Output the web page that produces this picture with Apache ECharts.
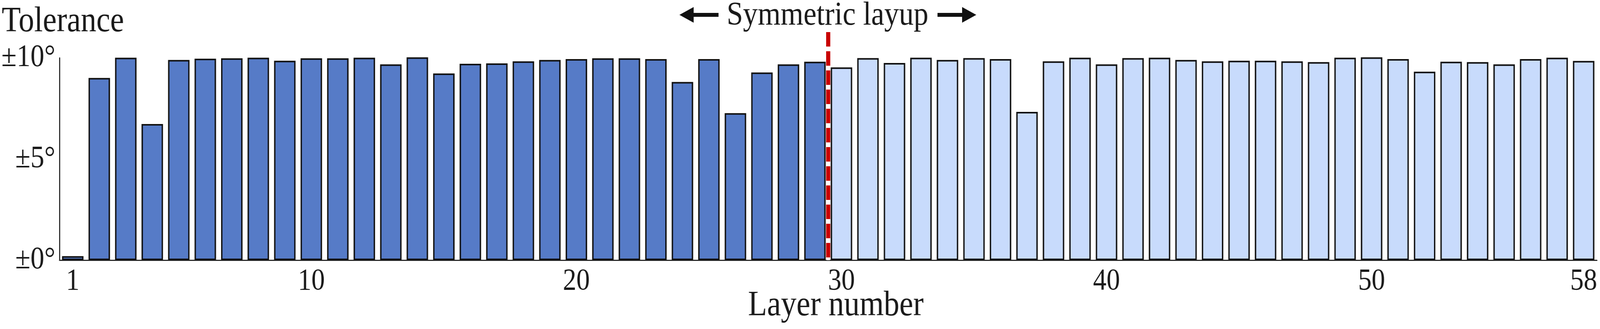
<!DOCTYPE html>
<html>
<head>
<meta charset="utf-8">
<script src="https://cdn.jsdelivr.net/npm/echarts@6/dist/echarts.min.js"></script>
<style>
  html, body { margin: 0; padding: 0; background: #ffffff; overflow: hidden; }
  #chart { width: 4625px; height: 841px; transform-origin: 0 0; }
</style>
</head>
<body>
<div id="chart"></div>
<script>
// Layer numbers 1..58
const layers = Array.from({ length: 58 }, (_, i) => String(i + 1));
// Tolerance (degrees) for layers 1-29 (dark) and 30-58 (light, symmetric half)
const innerLayers = [0.2, 9.01, 10.01, 6.73, 9.90, 9.96, 9.98, 10.01, 9.86, 9.98,
                     9.98, 10.01, 9.68, 10.03, 9.23, 9.71, 9.73, 9.83, 9.90, 9.94,
                     9.98, 9.98, 9.94, 8.81, 9.94, 7.27, 9.28, 9.68, 9.81];
const outerLayers = [9.53, 9.99, 9.75, 10.01, 9.90, 9.99, 9.94, 7.33, 9.83, 10.01,
                     9.68, 9.99, 10.01, 9.90, 9.83, 9.86, 9.86, 9.83, 9.79, 10.01,
                     10.03, 9.94, 9.32, 9.81, 9.79, 9.68, 9.94, 10.01, 9.85];
const xTickLabels = ['1', '10', '20', '30', '40', '50', '58'];
const yTickLabels = { 0: '±0°', 5: '±5°', 10: '±10°' };

const FONT = '"Liberation Serif", "Times New Roman", serif';
const TXT = '#1a1a1a';

// Fit the 4625px-wide figure into the available viewport width
const box = document.getElementById('chart');
const sx = Math.min(1, window.innerWidth / 4625);
box.style.transform = 'scaleX(' + sx + ')';

const innerData = innerLayers.concat(outerLayers.map(() => '-'));
const outerData = innerLayers.map(() => '-').concat(outerLayers);

const showIdx = (idx) => xTickLabels.indexOf(layers[idx]) >= 0;

const chart = echarts.init(box, null, { renderer: 'canvas', width: 4625, height: 841 });

chart.setOption({
  animation: false,
  backgroundColor: '#ffffff',
  grid: { left: 172, right: 9, top: 148, bottom: 176, containLabel: false },
  xAxis: {
    type: 'category',
    data: layers,
    boundaryGap: true,
    axisLine: { show: true, lineStyle: { color: '#2a2a2a', width: 3 } },
    axisTick: {
      show: true, inside: true, length: 46, alignWithLabel: true,
      interval: (idx) => showIdx(idx) && idx !== 0,
      lineStyle: { color: '#1a1a1a', width: 3 }
    },
    axisLabel: {
      show: true, interval: (idx) => showIdx(idx), margin: 16,
      fontFamily: FONT, fontSize: 78, color: TXT
    },
    splitLine: { show: false }
  },
  yAxis: {
    type: 'value',
    min: 0, max: 10, interval: 5,
    axisLine: { show: true, lineStyle: { color: '#1a1a1a', width: 3 } },
    axisTick: { show: false },
    splitLine: { show: false },
    axisLabel: {
      margin: 12, fontFamily: FONT, fontSize: 80, color: TXT,
      padding: [20, 0, 0, 0],
      formatter: (v) => yTickLabels[v] !== undefined ? yTickLabels[v] : ''
    }
  },
  series: [
    {
      name: 'Layers 1-29', type: 'bar', data: innerData, barWidth: '81%', barGap: '-100%',
      clip: false,
      itemStyle: { color: '#567BC7', borderColor: '#111111', borderWidth: 4 }
    },
    {
      name: 'Layers 30-58', type: 'bar', data: outerData, barWidth: '81%', barGap: '-100%',
      clip: false,
      itemStyle: { color: '#C8DBFC', borderColor: '#111111', borderWidth: 4 }
    }
  ]
});

// Symmetry plane between layer 29 and layer 30, located through the axis scale
const xa = chart.convertToPixel({ xAxisIndex: 0 }, layers[28]);
const xb = chart.convertToPixel({ xAxisIndex: 0 }, layers[29]);
const xm = (xa + xb) / 2;
const y0 = chart.convertToPixel({ yAxisIndex: 0 }, 0);
const lineTop = 82;
const arrowY = 38;

function arrow(tipX, baseX, endX) {
  const dir = Math.sign(baseX - tipX);
  return [
    {
      type: 'polygon', z: 120,
      shape: { points: [[tipX, arrowY], [baseX, arrowY - 20], [baseX, arrowY + 20]] },
      style: { fill: '#111111' }
    },
    {
      type: 'rect', z: 120,
      shape: { x: Math.min(baseX - dir * 2, endX), y: arrowY - 5, width: Math.abs(endX - baseX) + 2, height: 10 },
      style: { fill: '#111111' }
    }
  ];
}

chart.setOption({
  graphic: [
    {
      type: 'line', z: 110,
      shape: { x1: xm, y1: lineTop, x2: xm, y2: y0 },
      style: { stroke: '#ffffff', lineWidth: 10 }
    },
    {
      type: 'line', z: 111,
      shape: { x1: xm, y1: lineTop, x2: xm, y2: y0 },
      style: { stroke: '#C80000', lineWidth: 12, lineDash: [37, 12] }
    },
    {
      type: 'text', z: 120, x: xm - 2, y: 41,
      style: { text: 'Symmetric layup', font: '85px ' + FONT, fill: TXT, align: 'center', verticalAlign: 'middle' }
    },
    ...arrow(xm - 430, xm - 389, xm - 317),
    ...arrow(xm + 428, xm + 387, xm + 316),
    {
      type: 'text', z: 120, x: 5, y: 56,
      style: { text: 'Tolerance', font: '90px ' + FONT, fill: TXT, align: 'left', verticalAlign: 'middle' }
    },
    {
      type: 'text', z: 120, x: 2416, y: 782,
      style: { text: 'Layer number', font: '90px ' + FONT, fill: TXT, align: 'center', verticalAlign: 'middle' }
    }
  ]
});
</script>
</body>
</html>
